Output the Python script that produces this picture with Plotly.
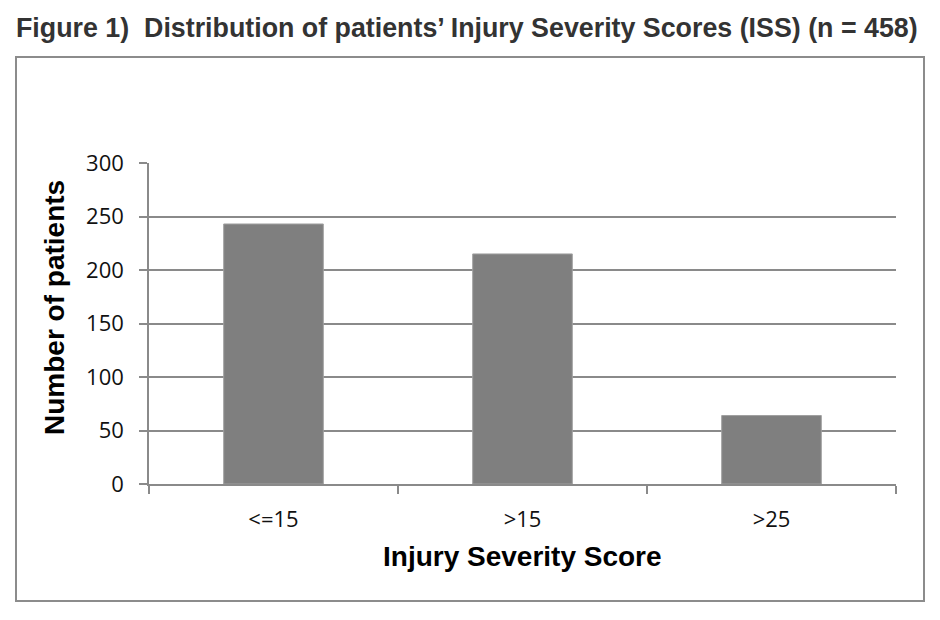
import plotly.graph_objects as go

categories = ["<=15", ">15", ">25"]
patients = [243, 215, 64]
y_ticks = [0, 50, 100, 150, 200, 250, 300]

# The page body has an 8px margin; work in reference pixel coordinates and shift.
OFF = 8
W, H = 940 - 2 * OFF, 620 - 2 * OFF
PL, PR, PT, PB = 149, 896, 163, 484   # plot area in reference pixels
L = PL - OFF
R = W - (PR - OFF)
T = PT - OFF
B = H - (PB - OFF)
pw = PR - PL
ph = PB - PT

def px_x(x):
    return (x - PL) / pw

def px_y(y):
    return (PB - y) / ph

fig = go.Figure()
fig.add_trace(go.Bar(
    x=categories, y=patients,
    marker=dict(color="#7f7f7f", line=dict(color="#a0a0a0", width=1)),
))

grid = "#8a8a8a"
tickfont = dict(family="Open Sans", size=22, color="#111111")
fig.update_layout(
    width=W, height=H,
    margin=dict(l=L, r=R, t=T, b=B, pad=0),
    paper_bgcolor="white", plot_bgcolor="white",
    bargap=0.6, showlegend=False,
    font=dict(family="Open Sans", color="#111111", size=22),
    title=dict(
        text="Figure 1)  Distribution of patients’ Injury Severity Scores (ISS) (n = 458)",
        x=(16 - OFF) / W, xanchor="left", xref="container",
        y=1 - (28 - OFF) / H, yanchor="middle", yref="container",
        font=dict(family="Liberation Sans, Arial", size=26.8, color="#333333", weight="bold"),
    ),
    xaxis=dict(
        showline=True, linecolor=grid, linewidth=1.5,
        ticks="outside", tickson="boundaries", ticklen=8, tickcolor=grid, tickwidth=1.5,
        showgrid=False, ticklabelstandoff=15,
        tickfont=tickfont,
    ),
    yaxis=dict(
        range=[0, 300], tickvals=y_ticks,
        showline=True, linecolor=grid, linewidth=1.5,
        ticks="outside", ticklen=8, tickcolor=grid, tickwidth=1.5,
        showgrid=True, gridcolor=grid, gridwidth=1.5,
        zeroline=False, ticklabelstandoff=11,
        tickfont=tickfont,
    ),
    annotations=[
        dict(text="Number of patients", textangle=-90,
             x=px_x(54), y=px_y((183 + 433) / 2), xref="paper", yref="paper",
             xanchor="center", yanchor="middle", showarrow=False,
             font=dict(family="Liberation Sans, Arial", size=28, color="#000000", weight="bold")),
        dict(text="Injury Severity Score",
             x=px_x((385 + 660) / 2), y=px_y(556), xref="paper", yref="paper",
             xanchor="center", yanchor="middle", showarrow=False,
             font=dict(family="Liberation Sans, Arial", size=28, color="#000000", weight="bold")),
    ],
    shapes=[
        dict(type="rect", xref="paper", yref="paper",
             x0=px_x(16), x1=px_x(924), y0=px_y(601), y1=px_y(57),
             line=dict(color="#8c8c8c", width=2), layer="below"),
    ],
)

fig.write_html("out.html")
